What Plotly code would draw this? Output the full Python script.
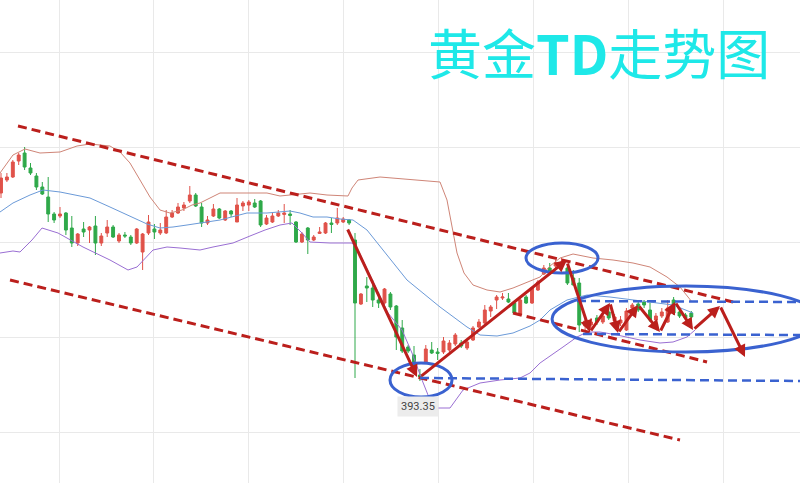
import plotly.graph_objects as go

# ---------------- data ----------------
opens = [402.75,403.4,403.55,404.35,404.75,404.0,403.6,403.05,402.55,401.7,
 401.6,401.75,401.0,400.25,400.95,400.9,401.1,400.25,400.75,401.05,
 400.35,400.65,400.55,400.25,399.8,400.75,400.95,400.75,400.75,401.55,
 401.75,402.0,402.35,402.65,402.05,401.25,401.6,401.95,401.4,401.85,
 401.3,402.1,402.15,402.25,402.35,401.2,401.3,401.6,401.68,401.7,
 401.3,400.3,401.0,400.4,400.73,400.75,401.25,401.25,401.3,401.4,
 400.4,397.2,398.1,398.0,397.4,397.25,397.7,397.1,396.0,395.05,
 394.65,393.65,394.3,394.9,394.8,394.8,394.9,395.2,395.25,395.0,
 395.4,396.05,396.25,396.85,397.4,397.5,397.45,397.25,396.65,397.55,
 397.25,397.9,398.7,399.0,399.1,399.15,399.0,398.5,398.25,396.1,
 396.15,396.5,396.3,396.8,396.35,396.25,395.9,397.0,397.2,397.3,
 396.9,396.4,396.6,396.3,397.4,396.8,396.65,396.75]
highs = [403.75,403.75,404.4,404.75,405.05,404.25,403.75,403.3,403.55,401.8,
 402.05,401.8,401.6,400.75,401.3,401.1,401.6,400.75,401.4,401.15,
 400.75,400.8,400.65,401.0,400.75,401.65,401.2,401.25,401.9,401.9,
 402.25,402.3,403.1,402.75,402.25,401.6,402.2,402.0,401.9,401.9,
 402.5,402.35,402.4,402.45,402.4,401.65,401.75,401.9,402.2,401.9,
 401.35,400.8,401.05,400.65,401.05,401.3,401.5,402.0,401.55,401.45,
 400.75,397.75,398.55,398.4,397.8,398.0,397.8,397.15,396.4,395.15,
 395.1,393.95,395.15,395.3,395.0,395.55,395.4,395.75,395.4,395.4,
 396.1,396.45,397.15,397.15,397.65,397.75,397.75,397.3,397.5,397.65,
 398.05,398.4,399.15,399.25,399.4,399.5,399.1,398.9,398.5,396.5,
 396.5,396.65,396.8,397.0,396.7,396.6,397.0,397.25,397.3,397.4,
 397.25,396.75,397.0,397.4,397.55,396.9,396.75,396.85]
lows = [402.5,403.3,403.5,404.15,403.9,403.65,402.9,402.65,401.3,401.25,
 401.5,400.65,400.05,400.1,400.55,400.25,399.65,400.1,400.55,400.5,
 400.25,400.5,400.15,400.2,398.9,400.65,400.45,400.65,400.7,401.5,
 401.7,401.85,402.25,402.05,401.05,401.15,401.55,401.45,401.35,401.55,
 401.3,401.85,401.85,402.0,401.05,401.15,401.25,401.55,401.25,401.15,
 400.25,400.25,399.7,400.35,400.7,400.7,400.75,401.15,401.25,401.15,
 393.5,397.15,397.3,397.05,397.0,397.15,396.9,394.9,394.75,394.75,
 394.0,393.35,394.25,394.7,394.4,394.7,394.8,395.1,395.0,394.9,
 395.35,396.0,396.2,396.55,396.95,397.4,397.25,396.7,396.6,397.2,
 397.2,397.85,398.65,398.8,399.0,399.1,398.15,398.15,395.8,395.9,
 395.95,396.15,396.2,396.4,396.25,396.1,395.85,396.8,396.8,397.0,
 396.3,396.3,396.5,396.25,396.65,396.5,396.4,396.35]
closes = [403.5,403.55,404.3,404.65,404.05,403.75,403.05,402.7,401.7,401.4,
 401.7,400.9,400.25,400.7,400.8,401.05,400.25,400.6,401.05,400.55,
 400.65,400.6,400.25,400.95,400.7,401.3,400.8,400.9,401.55,401.75,
 402.05,402.15,402.65,402.1,401.25,401.4,401.95,401.5,401.85,401.7,
 402.15,402.25,402.3,402.05,401.15,401.5,401.6,401.75,401.75,401.63,
 400.3,400.7,400.4,400.55,400.8,401.25,401.18,401.5,401.45,401.25,
 397.25,397.7,398.0,397.4,397.25,397.95,397.05,395.55,394.85,394.85,
 394.05,393.55,394.95,394.75,394.73,395.35,395.25,395.65,395.1,395.3,
 396.0,396.3,396.9,397.05,397.55,397.55,397.3,396.75,397.4,397.25,
 398.0,398.3,399.0,398.85,399.25,399.3,398.25,398.15,396.15,396.35,
 396.3,396.3,396.6,396.5,396.55,396.4,396.85,397.15,396.9,397.15,
 396.4,396.6,396.8,397.0,396.75,396.6,396.5,396.55]
bars = list(range(len(opens)))

# Bollinger bands (read at turning points)
upper_x = [-0.17,2.03,4.07,6.61,10.0,12.88,15.08,18.47,20.17,21.86,23.56,25.25,26.95,28.64,30.68,32.37,33.73,37.12,41.69,45.08,47.29,49.49,52.37,55.25,58.81,59.49,60.51,64.24,71.02,74.41,75.59,76.44,77.29,78.47,80.0,82.37,84.58,86.78,89.15,91.36,93.05,94.75,96.95,100.34,103.73,107.12,110.0,112.88,115.08,117.12]
upper_y = [403.75,404.65,404.95,404.75,404.8,405.1,405.2,405.1,404.8,404.25,403.4,402.55,401.9,401.75,401.9,402.15,402.25,402.75,402.75,402.75,402.6,402.65,402.75,402.65,402.6,403.0,403.4,403.55,403.4,403.3,402.4,401.15,399.75,398.75,398.15,397.9,397.8,398.0,398.3,398.55,399.1,399.5,399.7,399.5,399.4,399.25,399.05,398.55,398.05,397.3]
mid_x = [-0.17,2.03,4.92,7.12,10.0,15.08,18.47,22.37,24.75,26.95,29.15,31.53,33.73,37.12,41.69,45.08,48.98,50.68,52.88,55.25,57.46,59.66,62.03,64.75,68.81,74.41,78.98,81.19,84.07,86.78,89.66,91.36,93.05,95.93,99.32,103.22,107.12,110.51,113.9,117.29]
mid_y = [401.8,402.25,402.65,402.9,402.8,402.5,402.05,401.5,401.2,401.0,401.05,401.15,401.25,401.4,401.75,401.75,401.85,401.75,401.55,401.55,401.45,401.4,400.9,399.9,398.4,397.05,396.05,395.65,395.6,395.75,396.1,396.4,396.9,397.4,397.65,397.55,397.4,397.3,397.15,396.75]
lower_x = [-0.17,2.03,3.22,5.25,6.95,9.66,13.9,18.47,21.53,23.05,25.76,28.14,30.34,33.73,35.93,39.32,42.2,44.75,47.29,49.32,51.02,52.37,55.76,59.49,60.51,62.88,65.59,67.97,69.66,71.36,72.37,73.9,76.1,78.31,81.19,84.58,87.97,89.66,91.36,95.25,97.63,99.32,101.53,104.41,108.31,111.69,113.9,116.27,117.63]
lower_y = [399.75,399.85,399.8,400.4,401.0,400.75,400.05,399.4,398.9,399.05,399.9,400.05,400.0,399.9,400.05,400.25,400.6,400.9,401.15,401.25,400.75,400.3,400.25,400.25,399.9,398.4,396.75,395.9,394.75,393.4,392.65,392.0,392.0,392.9,393.25,393.4,393.5,393.75,394.25,395.05,395.55,395.8,395.8,395.65,395.4,395.25,395.3,395.55,395.9]

# hand-drawn analysis: (bar0, price0, bar1, price1)
channel_lines = [(2.88, 406.1, 124.07, 397.3), (1.53, 398.4, 115.08, 390.4), (86.78, 396.75, 119.66, 394.3)]
level_lines = [(71.02, 393.5, 135.42, 393.35), (97.63, 397.35, 135.42, 397.3), (98.64, 395.7, 135.42, 395.65)]
ellipses = [(65.93, 394.25, 76.44, 392.55), (88.98, 400.25, 101.19, 398.75), (93.4, 398.1, 138.8, 394.8)]
arrow_path_1 = [(58.64, 401.0), (70.51, 393.55)]
arrow_path_2 = [(71.02, 393.55), (95.93, 399.4)]
zigzag = [(95.93, 399.3), (99.83, 395.8), (103.22, 397.25), (104.58, 395.75), (107.97, 397.15),
          (111.69, 395.8), (114.24, 397.3), (117.29, 395.9), (121.86, 397.1), (126.1, 394.55)]
low_label = "393.35"
low_bar = 71
title_text = "黄金<b>TD</b>走势图"

RED_UP = "#e0524a"
GREEN_DN = "#2fa94a"
DARK_RED = "#bb1f1c"
BLUE = "#3a62d0"

fig = go.Figure()
fig.add_trace(go.Scatter(x=upper_x, y=upper_y, mode="lines", line=dict(color="#cf8577", width=1), hoverinfo="skip"))
fig.add_trace(go.Scatter(x=mid_x, y=mid_y, mode="lines", line=dict(color="#6b9ad8", width=1), hoverinfo="skip"))
fig.add_trace(go.Scatter(x=lower_x, y=lower_y, mode="lines", line=dict(color="#9a6fd3", width=1), hoverinfo="skip"))
fig.add_trace(go.Candlestick(
    x=bars, open=opens, high=highs, low=lows, close=closes,
    increasing=dict(line=dict(color=RED_UP, width=1), fillcolor=RED_UP),
    decreasing=dict(line=dict(color=GREEN_DN, width=1), fillcolor=GREEN_DN),
    whiskerwidth=0,
))

shapes = []
for x0, y0, x1, y1 in channel_lines:
    shapes.append(dict(type="line", xref="x", yref="y", x0=x0, y0=y0, x1=x1, y1=y1,
                       line=dict(color=DARK_RED, width=3, dash="9px,5px")))
for x0, y0, x1, y1 in level_lines:
    shapes.append(dict(type="line", xref="x", yref="y", x0=x0, y0=y0, x1=x1, y1=y1,
                       line=dict(color=BLUE, width=2.5, dash="9px,5px")))
for x0, y0, x1, y1 in ellipses:
    shapes.append(dict(type="circle", xref="x", yref="y", x0=x0, y0=y0, x1=x1, y1=y1,
                       line=dict(color=BLUE, width=3)))

annotations = []
def add_arrow(p0, p1):
    annotations.append(dict(x=p1[0], y=p1[1], ax=p0[0], ay=p0[1], xref="x", yref="y",
                            axref="x", ayref="y", text="", showarrow=True,
                            arrowhead=2, arrowsize=0.8, arrowwidth=3, arrowcolor=DARK_RED,
                            standoff=0, startstandoff=0))
add_arrow(*arrow_path_1)
add_arrow(*arrow_path_2)
for a, b in zip(zigzag[:-1], zigzag[1:]):
    add_arrow(a, b)

annotations.append(dict(x=low_bar - 0.3, y=lows[low_bar] - 1.25, xref="x", yref="y", text=low_label,
                        showarrow=False, bgcolor="#ececec", borderpad=3,
                        font=dict(family="Roboto, sans-serif", size=11, color="#444")))
annotations.append(dict(x=0.7485, y=0.893, xref="paper", yref="paper", text=title_text,
                        showarrow=False, xanchor="center", yanchor="middle",
                        font=dict(family="Noto Sans CJK SC", size=54, color="#1ee8e8")))

fig.update_layout(
    width=800, height=483, margin=dict(l=0, r=0, t=0, b=0),
    paper_bgcolor="white", plot_bgcolor="white", showlegend=False,
    shapes=shapes, annotations=annotations,
    xaxis=dict(range=[-0.17, 135.42], showticklabels=False, zeroline=False, showline=False,
               showgrid=True, gridcolor="#e9e9e9", tick0=9.83, dtick=16.1, ticks="",
               rangeslider=dict(visible=False)),
    yaxis=dict(range=[388.25, 412.4], showticklabels=False, zeroline=False, showline=False,
               showgrid=True, gridcolor="#e9e9e9", tick0=400.3, dtick=4.75, ticks=""),
)
fig.write_html("out.html", config={"displayModeBar": False},
               post_script="document.body.style.margin='0px';document.body.style.overflow='hidden';")
